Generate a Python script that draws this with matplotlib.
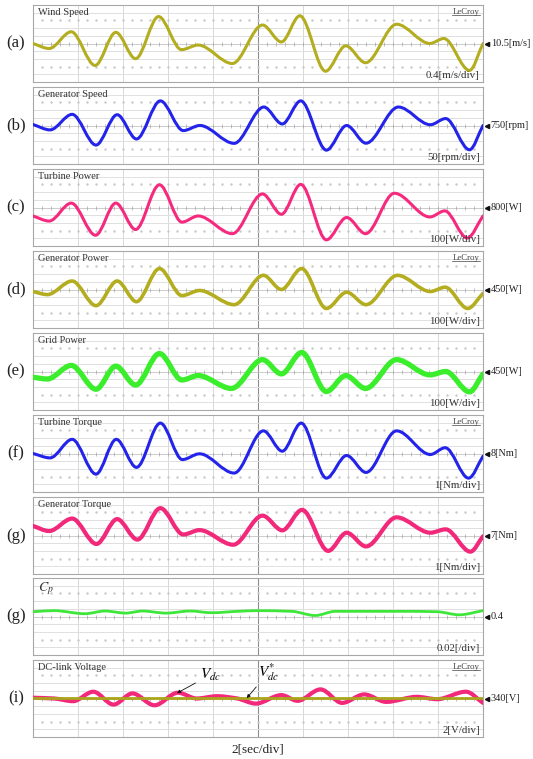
import numpy as np
import matplotlib.pyplot as plt
from matplotlib.path import Path
from matplotlib.patches import PathPatch

plt.rcParams['font.family'] = ['Liberation Serif', 'DejaVu Serif']
plt.rcParams['mathtext.fontset'] = 'stix'

# turning points, time in seconds (2 s per division)
t_wind = [0, 0.72, 1.70, 2.76, 3.68, 4.56, 5.58, 6.60, 7.34, 8.86, 10.20, 11.04,
          11.86, 13.00, 13.90, 14.78, 16.16, 17.64, 18.26, 19.40, 20.0]
wind = [10.50, 10.24, 11.11, 9.36, 11.08, 9.71, 11.90, 10.18, 10.42, 9.46, 11.46, 10.58,
        11.94, 9.06, 10.38, 9.50, 11.50, 10.50, 10.76, 9.10, 10.50]

t_gspeed = [0, 0.76, 1.74, 2.80, 3.74, 4.60, 5.66, 6.68, 7.42, 8.94, 10.26, 11.08,
            11.90, 13.04, 13.94, 14.80, 16.24, 17.66, 18.34, 19.40, 20.0]
gen_speed = [756.5, 721.5, 822.5, 623, 820, 662.5, 910, 717, 750, 634, 870, 760,
             910, 590, 750, 635, 870, 755, 795, 592.5, 750]

t_tpower = [0, 0.72, 1.70, 2.78, 3.68, 4.56, 5.62, 6.62, 7.34, 8.86, 10.20, 11.04,
            11.90, 13.04, 13.94, 14.78, 16.06, 17.64, 18.30, 19.30, 20.0]
turb_power = [690, 624, 857, 440, 857, 514, 1095, 610, 690, 460, 976, 712,
              1100, 380, 670, 460, 985, 677, 756, 404, 690]

t_gpower = [0, 0.64, 1.74, 2.80, 3.74, 4.60, 5.62, 6.62, 7.40, 8.94, 10.24, 11.04,
            11.94, 13.04, 13.94, 14.80, 16.20, 17.66, 18.32, 19.32, 20.0]
gen_power = [424, 384, 560, 240, 560, 292, 722, 371, 437, 253, 634, 450,
             722, 204, 415, 253, 634, 424, 480, 204, 400]

t_grid = [0, 0.64, 1.70, 2.80, 3.68, 4.56, 5.62, 6.62, 7.34, 8.82, 10.20, 11.04,
          11.94, 13.04, 13.90, 14.78, 16.16, 17.64, 18.34, 19.40, 20.0]
grid_power = [375, 353, 529, 220, 520, 274, 683, 340, 397, 230, 604, 419,
              697, 190, 397, 230, 604, 406, 450, 186, 419]

t_ttorque = [0, 0.76, 1.74, 2.80, 3.70, 4.60, 5.66, 6.64, 7.40, 8.94, 10.24, 11.08,
             11.92, 13.04, 13.94, 14.80, 16.16, 17.66, 18.32, 19.36, 20.0]
turb_torque = [8.0, 7.43, 9.84, 5.32, 9.84, 6.2, 11.95, 7.21, 7.96, 5.46, 10.94, 8.3,
               11.95, 4.8, 7.74, 5.54, 10.94, 7.87, 8.75, 4.8, 7.65]

t_gtorque = [0, 0.72, 1.74, 2.82, 3.74, 4.64, 5.66, 6.68, 7.40, 8.90, 10.20, 11.08,
             11.96, 13.12, 13.94, 14.80, 16.16, 17.66, 18.34, 19.44, 20.0]
gen_torque = [8.24, 7.58, 9.2, 5.9, 9.13, 6.47, 10.55, 7.13, 7.7, 5.8, 9.58, 7.67,
              10.33, 5.0, 7.36, 5.58, 9.36, 7.36, 7.8, 4.9, 6.9]

t_cp = [0, 0.94, 2.30, 3.20, 4.12, 4.86, 5.92, 6.98, 7.96, 9.08, 9.98, 11.50,
        12.54, 13.44, 15.10, 16.62, 17.96, 18.94, 20.0]
cp = [0.4124, 0.4152, 0.4072, 0.4142, 0.4088, 0.4142, 0.4088, 0.4142, 0.4098, 0.4134,
      0.4152, 0.4134, 0.4026, 0.4134, 0.4134, 0.4134, 0.4124, 0.4044, 0.4152]

t_vdc = [0, 0.94, 1.78, 2.68, 3.58, 4.42, 5.40, 6.44, 7.28, 8.18, 9.08, 9.90,
         11.04, 11.76, 12.78, 13.74, 14.72, 15.70, 17.06, 17.96, 19.24, 20.0]
vdc = [340.2, 340.0, 339.3, 341.76, 338.42, 341.32, 338.24, 341.5, 340.0, 340.6, 340.0, 338.68,
       340.88, 339.4, 342.36, 338.86, 341.06, 339.12, 340.44, 339.82, 341.76, 338.86]
t_vdc_ref = [0, 20]
vdc_ref = [340, 340]

# panel settings
letters = ['(a)', '(b)', '(c)', '(d)', '(e)', '(f)', '(g)', '(g)', '(i)']
titles = ['Wind Speed', 'Generator Speed', 'Turbine Power', 'Generator Power', 'Grid Power',
          'Turbine Torque', 'Generator Torque', r'$C_p$', 'DC-link Voltage']
centers = [10.5, 750, 800, 450, 450, 8, 7, 0.4, 340]
per_div = [0.4, 50, 100, 100, 100, 1, 1, 0.02, 2]
offset_labels = ['10.5[m/s]', '750[rpm]', '800[W]', '450[W]', '450[W]', '8[Nm]', '7[Nm]', '0.4', '340[V]']
scale_labels = ['0.4[m/s/div]', '50[rpm/div]', '100[W/div]', '100[W/div]', '100[W/div]',
                '1[Nm/div]', '1[Nm/div]', '0.02[/div]', '2[V/div]']
lecroy = [True, False, False, True, False, True, False, False, True]

traces = [[(t_wind, wind, '#b3ad1f', 2.2)],
          [(t_gspeed, gen_speed, '#2323ea', 2.2)],
          [(t_tpower, turb_power, '#f52a7e', 2.2)],
          [(t_gpower, gen_power, '#b3ad1f', 2.6)],
          [(t_grid, grid_power, '#3aee2c', 3.8)],
          [(t_ttorque, turb_torque, '#2323ea', 2.2)],
          [(t_gtorque, gen_torque, '#f2287a', 3.0)],
          [(t_cp, cp, '#3ee63a', 2.0)],
          [(t_vdc, vdc, '#f2287a', 3.0), (t_vdc_ref, vdc_ref, '#aaa61c', 2.0)]]

# panel top/bottom in pixels of the 533x759 figure
tops = [5, 87, 169, 251, 333, 415, 497, 578, 660]
bottoms = [82, 164, 246, 328, 410, 492, 574, 655, 737]
W, H = 533, 759
x0, x1 = 33, 483


def smooth_line(ax, t, v, color, lw):
    # draw a smooth curve through the read points (monotone cubic bezier)
    t = np.asarray(t, float)
    v = np.asarray(v, float)
    h = np.diff(t)
    d = np.diff(v) / h
    m = np.zeros_like(v)
    for i in range(1, len(v) - 1):
        if d[i - 1] * d[i] > 0:
            m[i] = 2 / (1 / d[i - 1] + 1 / d[i])
    m[0] = d[0]
    m[-1] = d[-1]
    verts = [(t[0], v[0])]
    for i in range(len(h)):
        verts += [(t[i] + h[i] / 3, v[i] + m[i] * h[i] / 3),
                  (t[i + 1] - h[i] / 3, v[i + 1] - m[i + 1] * h[i] / 3),
                  (t[i + 1], v[i + 1])]
    codes = [Path.MOVETO] + [Path.CURVE4] * (3 * len(h))
    ax.add_patch(PathPatch(Path(verts, codes), fill=False, edgecolor=color,
                           linewidth=lw, joinstyle='round', capstyle='round', zorder=3))


fig = plt.figure(figsize=(W / 100, H / 100), dpi=100)
fig.patch.set_facecolor('white')

axes = []
for k in range(9):
    ax = fig.add_axes([x0 / W, 1 - bottoms[k] / H, (x1 - x0) / W, (bottoms[k] - tops[k]) / H])
    c, s = centers[k], per_div[k]
    ax.set_xlim(0, 20)
    ax.set_ylim(c - 5 * s, c + 5 * s)
    ax.set_xticks([])
    ax.set_yticks([])
    for sp in ax.spines.values():
        sp.set_color('#a8a8a8')
        sp.set_linewidth(0.8)

    # scope graticule
    for j in range(1, 10):
        if j == 5:
            ax.axvline(2 * j, color='#8e8e8e', lw=0.8, zorder=0)
        else:
            ax.axvline(2 * j, color='#d8d8d8', lw=0.7, zorder=0)
    for j in (-4, -2, -1, 1, 2, 4):
        ax.axhline(c + j * s, color='#e0e0e0', lw=0.7, zorder=0)
    dots = np.arange(0.4, 20, 0.4)
    for j in (-3, 3):
        ax.plot(dots, np.full(len(dots), c + j * s), ls='none', marker='s', ms=0.7,
                color='#c8c8c8', zorder=0)
    ax.axhline(c, color='#c4c4c4', lw=0.6, zorder=0)
    ax.plot(dots, np.full(len(dots), c), ls='none', marker='|', ms=2.2, mew=0.5,
            color='#a4a4a4', zorder=0)

    for tt, vv, col, lw in traces[k]:
        smooth_line(ax, tt, vv, col, lw)

    # texts inside the screen
    ax.text(0.01, 0.965, titles[k], transform=ax.transAxes, ha='left', va='top',
            fontsize=7.5 if k != 7 else 10, color='#333333')
    ax.text(0.993, 0.03, scale_labels[k], transform=ax.transAxes, ha='right', va='bottom',
            fontsize=7.8, color='#333333')
    if lecroy[k]:
        ax.text(0.993, 0.965, 'LeCroy', transform=ax.transAxes, ha='right', va='top',
                fontsize=6.3, color='#444444')
        ax.plot([0.93, 0.993], [0.865, 0.865], transform=ax.transAxes, color='#444444', lw=0.5)

    # offset marker and value on the right
    ax.plot([1.009], [0.5], transform=ax.transAxes, marker='<', ms=3, color='#111111',
            clip_on=False)
    ax.text(1.017, 0.5, offset_labels[k], transform=ax.transAxes, ha='left', va='center',
            fontsize=7.4, color='#222222', clip_on=False)

    # panel letter
    fig.text(16 / W, 1 - (tops[k] + bottoms[k]) / 2 / H, letters[k], ha='center', va='center',
             fontsize=12, color='#222222')
    axes.append(ax)

# V_dc and V_dc* pointers
ax = axes[8]
ax.annotate(r'$V_{dc}$', xy=(6.4, 341.4), xytext=(7.4, 344.0), fontsize=11, ha='left', va='bottom',
            arrowprops=dict(arrowstyle='-|>', color='#111111', lw=0.6, mutation_scale=5,
                            shrinkA=1, shrinkB=0))
ax.annotate(r'$V_{dc}^{*}$', xy=(9.5, 340.1), xytext=(10.0, 344.0), fontsize=11, ha='left',
            va='bottom',
            arrowprops=dict(arrowstyle='-|>', color='#111111', lw=0.6, mutation_scale=5,
                            shrinkA=1, shrinkB=0))

fig.text(258 / W, 1 - 749 / H, '2[sec/div]', ha='center', va='center', fontsize=9.5, color='#222222')

fig.savefig('out.png', dpi=100)
